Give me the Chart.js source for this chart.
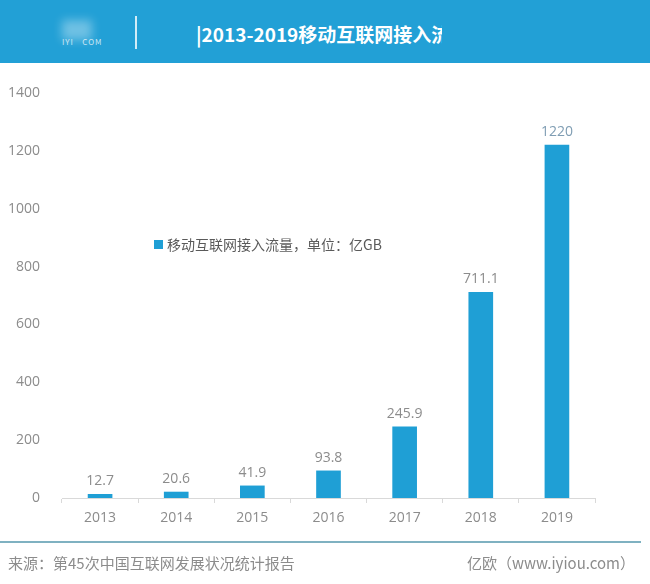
<!DOCTYPE html>
<html>
<head>
<meta charset="utf-8">
<script src="https://cdn.jsdelivr.net/npm/chart.js@4/dist/chart.umd.min.js"></script>
<style>
  html, body { margin: 0; padding: 0; background: #fff; }
  #wrap { position: relative; width: 650px; height: 584px; overflow: hidden; font-family: "Noto Sans CJK SC", "Open Sans", sans-serif; }
  #header { position: absolute; left: 0; top: 0; width: 650px; height: 63px; background: #22a0d6; }
  #logo { position: absolute; left: 62px; top: 20px; width: 30px; height: 20px; background: rgba(255,255,255,0.35); filter: blur(5px); }
  #logoText { position: absolute; left: 62px; top: 36px; font-size: 8px; color: rgba(255,255,255,0.75); letter-spacing: 1px; }
  #sep { position: absolute; left: 135px; top: 16px; width: 2px; height: 33px; background: rgba(255,255,255,0.8); }
  #title { position: absolute; left: 196px; top: 20px; width: 246px; height: 30px; overflow: hidden; white-space: nowrap; color: #fff; font-weight: bold; font-size: 19px; line-height: 28px; }
  #chart { position: absolute; left: 0; top: 0; }
  #footLine { position: absolute; left: 0; top: 541px; width: 641px; height: 2px; background: #7fb1c1; }
  #source { position: absolute; left: 8px; top: 553px; font-size: 15px; color: #8c8c8c; line-height: 20px; }
  #site { position: absolute; right: 15px; top: 553px; font-size: 15px; color: #8c8c8c; line-height: 20px; }
</style>
</head>
<body>
<div id="wrap">
  <canvas id="chart" width="650" height="584"></canvas>
  <div id="header">
    <div id="logo"></div>
    <div id="logoText">IYI&nbsp;&nbsp;&nbsp;COM</div>
    <div id="sep"></div>
    <div id="title">|2013-2019移动互联网接入流量</div>
  </div>
  <div id="footLine"></div>
  <div id="source">来源：第45次中国互联网发展状况统计报告</div>
  <div id="site">亿欧（www.iyiou.com）</div>
</div>
<script>
'use strict';

let years = ['2013', '2014', '2015', '2016', '2017', '2018', '2019'];
let traffic = [12.7, 20.6, 41.9, 93.8, 245.9, 711.1, 1220];
let valueLabels = ['12.7', '20.6', '41.9', '93.8', '245.9', '711.1', '1220'];
let yTicks = [0, 200, 400, 600, 800, 1000, 1200, 1400];
let seriesName = '移动互联网接入流量，单位：亿GB';

let barColor = '#1f9fd5';
let textColor = '#8c8c8c';
let fontFamily = '"Open Sans", "Noto Sans CJK SC", sans-serif';

// value labels above bars + legend inside the plot
let labelPlugin = {
  id: 'labels',
  afterDatasetsDraw: function (chart) {
    let ctx = chart.ctx;
    let meta = chart.getDatasetMeta(0);
    ctx.save();
    ctx.font = '14px ' + fontFamily;
    ctx.textAlign = 'center';
    ctx.textBaseline = 'bottom';
    meta.data.forEach(function (bar, i) {
      ctx.fillStyle = i === meta.data.length - 1 ? '#7f9db3' : textColor;
      ctx.fillText(valueLabels[i], bar.x, bar.y - 6);
    });

    // legend
    ctx.fillStyle = chart.data.datasets[0].backgroundColor;
    ctx.fillRect(154, 240, 9, 9);
    ctx.fillStyle = '#5a5a5a';
    ctx.textAlign = 'left';
    ctx.textBaseline = 'middle';
    ctx.font = '14px "Noto Sans CJK SC", sans-serif';
    ctx.fillText(chart.data.datasets[0].label, 167, 245);
    ctx.restore();
  }
};

let ctx = document.getElementById('chart').getContext('2d');
let myChart = new Chart(ctx, {
  type: 'bar',
  data: {
    labels: years,
    datasets: [{
      label: seriesName,
      data: traffic,
      backgroundColor: barColor,
      barThickness: 24
    }]
  },
  options: {
    responsive: false,
    animation: false,
    layout: { padding: { left: 0, right: 55, top: 93, bottom: 56 } },
    plugins: {
      legend: { display: false },
      tooltip: { enabled: false }
    },
    scales: {
      x: {
        grid: { display: true, offset: true, drawOnChartArea: false, drawTicks: true, tickLength: 5, color: '#d9d9d9' },
        border: { display: true, color: '#d9d9d9', width: 1 },
        ticks: { color: textColor, font: { family: fontFamily, size: 14 }, padding: 7 },
        afterFit: function (scale) { scale.height = 30; }
      },
      y: {
        min: 0,
        max: 1400,
        grid: { display: false },
        border: { display: false },
        afterBuildTicks: function (scale) {
          scale.ticks = yTicks.map(function (v) { return { value: v }; });
        },
        ticks: {
          color: textColor,
          font: { family: fontFamily, size: 14 },
          padding: 14,
          callback: function (value) { return String(value); }
        },
        afterFit: function (scale) { scale.width = 62; }
      }
    }
  },
  plugins: [labelPlugin]
});
</script>
</body>
</html>
